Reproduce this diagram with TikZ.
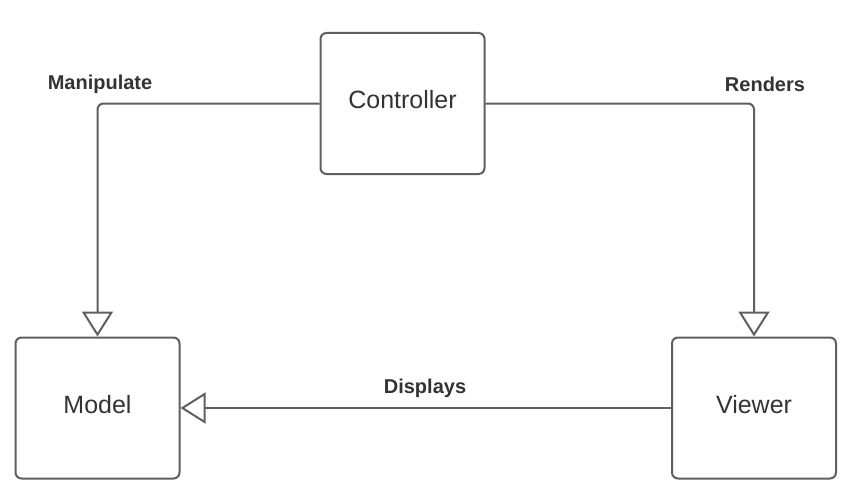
\documentclass[tikz,border=0pt]{standalone}
\usepackage{fontspec}
\setmainfont{Liberation Sans}
\usetikzlibrary{arrows.meta}
\definecolor{edge}{HTML}{5F5F5F}
\definecolor{txt}{HTML}{333333}
\tikzset{
  box/.style={draw=edge, line width=2pt, rounded corners=6pt, fill=white,
    minimum width=164pt, minimum height=141pt, inner sep=0pt,
    text height=18pt, text depth=8pt,
    text=txt, font=\fontsize{25}{30}\selectfont},
  lbl/.style={text=txt, font=\fontsize{20}{24}\selectfont\bfseries, inner sep=0pt},
  conn/.style={draw=edge, line width=2pt, rounded corners=6pt,
    -{Triangle[open, length=25pt, width=31pt, line width=2pt]}},
}
\begin{document}
\begin{tikzpicture}[x=1pt, y=-1pt]
\useasboundingbox (0,0) rectangle (858,503);
\node[box] (ctrl) at (402.5,103.5) {Controller};
\node[box] (model) at (97.5,408) {Model};
\node[box] (viewer) at (754,408) {Viewer};
\draw[conn] (ctrl.west) -| (model.north);
\draw[conn] (ctrl.east) -| (viewer.north);
\draw[conn] (viewer.west) -- (model.east);
\node[lbl] (lm) at (100,84) {Manipulate};
\node[lbl] (lr) at (765,84) {Renders};
\node[lbl] (ld) at (425,388) {Displays};
\end{tikzpicture}
\end{document}
